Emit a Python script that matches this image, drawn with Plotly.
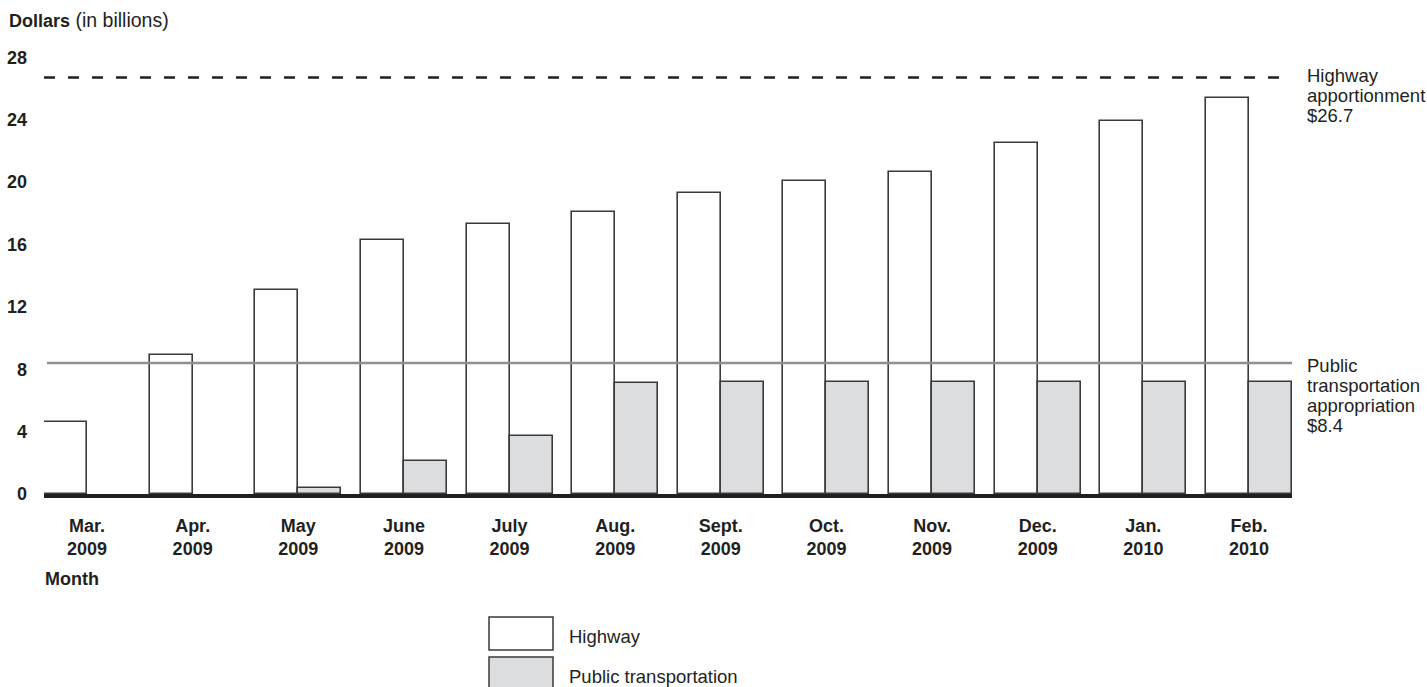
import plotly.graph_objects as go

# ---- data ----
months = ["Mar.<br>2009", "Apr.<br>2009", "May<br>2009", "June<br>2009", "July<br>2009",
          "Aug.<br>2009", "Sept.<br>2009", "Oct.<br>2009", "Nov.<br>2009", "Dec.<br>2009",
          "Jan.<br>2010", "Feb.<br>2010"]
highway = [4.62, 8.93, 13.05, 16.26, 17.33, 18.10, 19.27, 20.06, 20.62, 22.47, 23.93, 25.36]
public_transportation = [None, None, 0.40, 2.09, 3.69, 7.12, 7.15, 7.15, 7.15, 7.15, 7.20, 7.20]
highway_apportionment = 26.7
public_appropriation = 8.4
y_ticks = [0, 4, 8, 12, 16, 20, 24, 28]

# ---- layout geometry (pixels) ----
FW, FH = 1427, 687
L, R, T, B = 44, 1292, 50, 494
W, H = R - L, B - T
PX_PER_UNIT = 15.6
BAR_W = 0.407

def px_x(x):
    return (x - L) / W

def px_y(y):
    return (B - y) / H

TXT = "#231f20"
EDGE = "#3a3a3c"
FONT = "Liberation Sans, Arial, Helvetica, sans-serif"

idx = list(range(len(months)))

fig = go.Figure()
fig.add_trace(go.Bar(x=idx, y=highway, offset=-BAR_W, width=BAR_W, cliponaxis=False,
                     marker=dict(color="#ffffff", line=dict(color=EDGE, width=1.6)),
                     name="Highway", showlegend=False))
fig.add_trace(go.Bar(x=idx, y=public_transportation, offset=0, width=BAR_W, cliponaxis=False,
                     marker=dict(color="#dcdddf", line=dict(color=EDGE, width=1.6)),
                     name="Public transportation", showlegend=False))

shapes = [
    dict(type="line", xref="paper", yref="y", x0=0, x1=px_x(1286),
         y0=highway_apportionment, y1=highway_apportionment,
         line=dict(color=TXT, width=2.5, dash="11px,13px"), layer="above"),
    dict(type="line", xref="paper", yref="y", x0=px_x(47), x1=1,
         y0=public_appropriation, y1=public_appropriation,
         line=dict(color="#8e8f92", width=2.6), layer="above"),
    # legend boxes
    dict(type="rect", xref="paper", yref="paper", x0=px_x(489), x1=px_x(553),
         y0=px_y(650), y1=px_y(617), fillcolor="#ffffff",
         line=dict(color=EDGE, width=1.5)),
    dict(type="rect", xref="paper", yref="paper", x0=px_x(489), x1=px_x(553),
         y0=px_y(692), y1=px_y(657), fillcolor="#dcdddf",
         line=dict(color=EDGE, width=1.5)),
]

annotations = [
    dict(text="<b>Dollars</b><span style='font-size:19.5px'> (in billions)</span>",
         xref="paper", yref="paper",
         x=px_x(7), y=px_y(20), xanchor="left", yanchor="middle", showarrow=False,
         font=dict(size=18, color=TXT, family=FONT)),
    dict(text="<b>Month</b>", xref="paper", yref="paper",
         x=px_x(43), y=px_y(579), xanchor="left", yanchor="middle", showarrow=False,
         font=dict(size=18, color=TXT, family=FONT)),
    dict(text="Highway", xref="paper", yref="paper",
         x=px_x(567), y=px_y(636), xanchor="left", yanchor="middle", showarrow=False,
         font=dict(size=18.5, color=TXT, family=FONT)),
    dict(text="Public transportation", xref="paper", yref="paper",
         x=px_x(567), y=px_y(676), xanchor="left", yanchor="middle", showarrow=False,
         font=dict(size=18.5, color=TXT, family=FONT)),
]

for line_text, shift in zip(["Highway", "apportionment", "$%.1f" % highway_apportionment],
                            [1.5, -18.5, -38]):
    annotations.append(dict(text=line_text, xref="paper", yref="y", x=px_x(1305),
                            y=highway_apportionment, yshift=shift, xanchor="left",
                            yanchor="middle", showarrow=False,
                            font=dict(size=18.5, color=TXT, family=FONT)))
for line_text, shift in zip(["Public", "transportation", "appropriation", "$%.1f" % public_appropriation],
                            [-3, -23, -43, -63]):
    annotations.append(dict(text=line_text, xref="paper", yref="y", x=px_x(1305),
                            y=public_appropriation, yshift=shift, xanchor="left",
                            yanchor="middle", showarrow=False,
                            font=dict(size=18.5, color=TXT, family=FONT)))

fig.update_layout(
    width=FW, height=FH,
    margin=dict(l=L, r=FW - R, t=T, b=FH - B, pad=0, autoexpand=False),
    paper_bgcolor="#ffffff", plot_bgcolor="#ffffff",
    barmode="overlay", bargap=0,
    shapes=shapes, annotations=annotations,
    font=dict(family=FONT, color=TXT),
    xaxis=dict(range=[-BAR_W, len(months) - 1 + BAR_W], tickvals=idx,
               ticktext=["<b>%s</b>" % m for m in months],
               tickfont=dict(size=18, color=TXT, family=FONT),
               showgrid=False, zeroline=False, showline=True, linecolor=TXT, linewidth=4,
               ticks="", ticklabelstandoff=12, fixedrange=True, automargin=False),
    yaxis=dict(range=[0, H / PX_PER_UNIT], tickvals=y_ticks,
               ticktext=["<b>%d</b>" % v for v in y_ticks],
               tickfont=dict(size=18, color=TXT, family=FONT),
               showgrid=False, zeroline=False, showline=False, ticks="",
               ticklabelstandoff=16, fixedrange=True, automargin=False),
)

fig.write_html("out.html", config={"displayModeBar": False},
               post_script="document.body.style.margin='0';document.body.style.overflow='hidden';")
